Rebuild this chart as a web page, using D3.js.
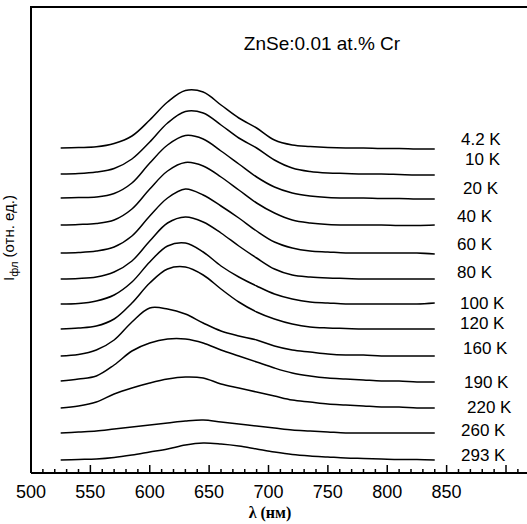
<!DOCTYPE html>
<html>
<head>
<meta charset="utf-8">
<script src="https://cdn.jsdelivr.net/npm/d3@7"></script>
<style>
  body { margin: 0; background: #fff; }
  text { font-family: Arial, "Liberation Sans", sans-serif; fill: #000; }
</style>
</head>
<body>
<div id="chart"></div>
<script>
const width = 527;
const height = 524;

// wavelength grid, nm
const wavelengths = [525, 540, 555, 570, 585, 600, 615, 630, 645, 660, 675, 690, 705, 720, 735, 750, 765, 780, 795, 810, 825, 840];

const temps = ['4.2 K', '10 K', '20 K', '40 K', '60 K', '80 K', '100 K', '120 K', '160 K', '190 K', '220 K', '260 K', '293 K'];

// vertical shift of each spectrum (rel. units)
const offsets = [32.5, 29.9, 27.5, 24.8, 22.0, 19.4, 16.9, 14.4, 11.7, 9.2, 6.5, 4.0, 1.3];

// PL intensity above the shifted baseline (rel. units)
const s4 = [0, 0.05, 0.12, 0.45, 1.2, 2.8, 4.6, 5.75, 5.6, 4.3, 3.0, 2.0, 0.8, 0.3, 0.15, 0.05, 0, 0, -0.05, -0.05, -0.1, -0.1];
const s10 = [0, 0.05, 0.2, 0.55, 1.5, 3.2, 5.1, 6.25, 6.1, 4.9, 3.6, 2.6, 1.4, 0.6, 0.25, 0.1, 0.05, 0, 0, -0.05, -0.1, -0.1];
const s20 = [0, 0.05, 0.1, 0.45, 1.5, 3.5, 5.3, 6.25, 5.9, 4.7, 3.4, 2.1, 1.1, 0.5, 0.2, 0.05, 0, 0, -0.05, -0.05, -0.1, -0.1];
const s40 = [0, 0.05, 0.15, 0.5, 1.6, 3.6, 5.4, 6.25, 5.9, 4.8, 3.5, 2.2, 1.2, 0.5, 0.2, 0.05, 0, 0, 0, -0.05, -0.05, 0];
const s60 = [0, 0.05, 0.2, 0.6, 1.7, 3.7, 5.5, 6.4, 5.8, 4.7, 3.5, 2.2, 1.1, 0.5, 0.2, 0.1, 0, 0, 0, 0, 0, -0.1];
const s80 = [0, 0.05, 0.2, 0.7, 1.8, 3.8, 5.6, 6.2, 5.7, 4.6, 3.3, 2.1, 1.0, 0.4, 0.2, 0.1, 0.05, 0, 0, 0, 0, 0];
const s100 = [0, 0.05, 0.3, 0.9, 2.2, 4.2, 5.8, 6.1, 5.2, 3.8, 2.7, 1.8, 1.0, 0.5, 0.2, 0.1, 0, 0, 0, 0, 0, 0.1];
const s120 = [0, 0.1, 0.3, 1.0, 2.6, 4.6, 6.0, 6.2, 5.4, 4.0, 2.7, 1.7, 1.0, 0.5, 0.2, 0.1, 0.05, 0, 0, 0, 0, 0];
const s160 = [0, 0.15, 0.6, 1.6, 3.4, 4.8, 4.7, 4.2, 3.3, 2.5, 2.0, 1.6, 1.0, 0.6, 0.4, 0.2, 0.1, 0.1, 0, 0, 0, 0];
const s190 = [0, 0.2, 0.5, 1.6, 3.0, 3.8, 4.2, 4.2, 3.8, 3.1, 2.5, 1.9, 1.3, 0.8, 0.5, 0.3, 0.2, 0.1, 0, 0, -0.1, -0.1];
const s220 = [0, 0.2, 0.6, 1.4, 2.0, 2.5, 2.9, 3.1, 3.0, 2.4, 2.0, 1.6, 1.2, 0.8, 0.6, 0.4, 0.3, 0.2, 0.1, 0.1, 0, 0];
const s260 = [0, 0.1, 0.2, 0.4, 0.6, 0.8, 1.0, 1.2, 1.3, 1.1, 0.9, 0.7, 0.5, 0.3, 0.2, 0.1, 0, 0, 0, 0, 0, 0];
const s293 = [0, 0.05, 0.1, 0.25, 0.5, 0.8, 1.1, 1.5, 1.7, 1.6, 1.4, 1.1, 0.8, 0.55, 0.4, 0.3, 0.2, 0.15, 0.1, 0.05, 0.05, 0];

const spectra = [s4, s10, s20, s40, s60, s80, s100, s120, s160, s190, s220, s260, s293];

const xTicksMajor = [500, 550, 600, 650, 700, 750, 800, 850];

// label placement next to each curve (px)
const labelX = [461, 465, 463, 457, 457, 457, 460, 460, 463, 464, 467, 461, 461];
const labelDy = [-9, -15, -10, -9, -9, -7, -1, -6, -8, 1, -1, -3, -5];

let svg = d3.select('#chart')
    .append('svg')
    .attr('width', width)
    .attr('height', height);

let x = d3.scaleLinear().domain([500, 900]).range([31, 506]);
let y = d3.scaleLinear().domain([0, 46.6]).range([473, 7]);

// frame: left and top lines, bottom axis line
svg.append('path')
    .attr('d', `M31,473V7H${width}`)
    .attr('fill', 'none')
    .attr('stroke', '#000')
    .attr('stroke-width', 2);

svg.append('line')
    .attr('x1', 31).attr('x2', width)
    .attr('y1', 473).attr('y2', 473)
    .attr('stroke', '#000')
    .attr('stroke-width', 2);

// ticks point inward
let ticks = d3.range(510, 920, 10);
svg.selectAll('.tick')
    .data(ticks)
    .enter()
    .append('line')
    .attr('class', 'tick')
    .attr('x1', d => x(d)).attr('x2', d => x(d))
    .attr('y1', 473)
    .attr('y2', d => d % 50 === 0 ? 465 : 469)
    .attr('stroke', '#000')
    .attr('stroke-width', 1.5);

svg.selectAll('.xlab')
    .data(xTicksMajor)
    .enter()
    .append('text')
    .attr('class', 'xlab')
    .attr('x', d => x(d))
    .attr('y', 498)
    .attr('text-anchor', 'middle')
    .style('font-size', '18px')
    .text(d => d);

svg.append('text')
    .attr('x', 270)
    .attr('y', 518)
    .attr('text-anchor', 'middle')
    .style('font-family', '"Liberation Serif", "Times New Roman", serif')
    .style('font-weight', 'bold')
    .style('font-size', '16px')
    .text('λ (нм)');

let ylab = svg.append('text')
    .attr('transform', 'translate(14,238) rotate(-90)')
    .attr('text-anchor', 'middle')
    .style('font-size', '15px');
ylab.append('tspan').text('I');
ylab.append('tspan').attr('dy', 4).style('font-size', '11px').text('фл');
ylab.append('tspan').attr('dy', -4).text(' (отн. ед.)');

svg.append('text')
    .attr('x', 322)
    .attr('y', 50)
    .attr('text-anchor', 'middle')
    .style('font-size', '19px')
    .text('ZnSe:0.01 at.% Cr');

let line = d3.line()
    .x(d => x(d[0]))
    .y(d => y(d[1]))
    .curve(d3.curveCatmullRom.alpha(0.5));

spectra.forEach(function(s, i) {
    let pts = wavelengths.map((w, j) => [w, offsets[i] + s[j]]);
    svg.append('path')
        .datum(pts)
        .attr('d', line)
        .attr('fill', 'none')
        .attr('stroke', '#000')
        .attr('stroke-width', 1.5);

    svg.append('text')
        .attr('x', labelX[i])
        .attr('y', y(offsets[i]) + labelDy[i])
        .attr('dy', '0.35em')
        .style('font-size', '17px')
        .text(temps[i]);
});
</script>
</body>
</html>
